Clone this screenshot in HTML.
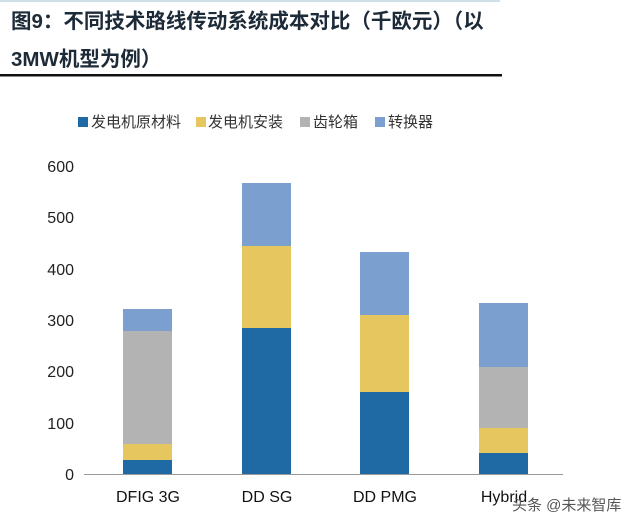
<!DOCTYPE html>
<html><head><meta charset="utf-8"><style>
body{margin:0;background:#fff;width:641px;height:527px;overflow:hidden}
</style></head><body>
<svg width="641" height="527" xmlns="http://www.w3.org/2000/svg" font-family="Liberation Sans, Noto Sans CJK SC, sans-serif">
<rect x="0" y="0" width="500" height="2" fill="#cfe0ea"/>
<text x="11" y="28" font-size="20.5" font-weight="bold" fill="#1d2a38">图9：不同技术路线传动系统成本对比（千欧元）（以</text>
<text x="11" y="66" font-size="20.5" font-weight="bold" fill="#1d2a38">3MW机型为例）</text>
<rect x="0" y="74" width="502" height="2.5" fill="#111"/>
<g font-size="15" fill="#333">
<rect x="78" y="117" width="10" height="10" fill="#1f6aa5"/><text x="91" y="127">发电机原材料</text>
<rect x="196" y="117" width="10" height="10" fill="#e6c65e"/><text x="208" y="127">发电机安装</text>
<rect x="300" y="117" width="10" height="10" fill="#b3b3b3"/><text x="313" y="127">齿轮箱</text>
<rect x="375" y="117" width="10" height="10" fill="#7b9fcf"/><text x="388" y="127">转换器</text>
</g>
<g font-size="16" fill="#222" text-anchor="end">
<text x="74" y="480">0</text><text x="74" y="429">100</text><text x="74" y="377">200</text>
<text x="74" y="326">300</text><text x="74" y="275">400</text><text x="74" y="223">500</text><text x="74" y="172">600</text>
</g>
<line x1="84" y1="474.5" x2="563" y2="474.5" stroke="#999"/>
<rect x="123" y="460" width="49" height="14" fill="#1f6aa5"/>
<rect x="123" y="444" width="49" height="16" fill="#e6c65e"/>
<rect x="123" y="331" width="49" height="113" fill="#b3b3b3"/>
<rect x="123" y="309" width="49" height="22" fill="#7b9fcf"/>
<rect x="242" y="328" width="49" height="146" fill="#1f6aa5"/>
<rect x="242" y="246" width="49" height="82" fill="#e6c65e"/>
<rect x="242" y="183" width="49" height="63" fill="#7b9fcf"/>
<rect x="360" y="392" width="49" height="82" fill="#1f6aa5"/>
<rect x="360" y="315" width="49" height="77" fill="#e6c65e"/>
<rect x="360" y="252" width="49" height="63" fill="#7b9fcf"/>
<rect x="479" y="453" width="49" height="21" fill="#1f6aa5"/>
<rect x="479" y="428" width="49" height="25" fill="#e6c65e"/>
<rect x="479" y="367" width="49" height="61" fill="#b3b3b3"/>
<rect x="479" y="303" width="49" height="64" fill="#7b9fcf"/>
<g font-size="16" fill="#111" text-anchor="middle">
<text x="148" y="502">DFIG 3G</text><text x="267" y="502">DD SG</text>
<text x="385" y="502">DD PMG</text><text x="504" y="502">Hybrid</text>
</g>
<text x="512" y="510" font-size="15" fill="#555">头条 @未来智库</text>
</svg>
</body></html>
